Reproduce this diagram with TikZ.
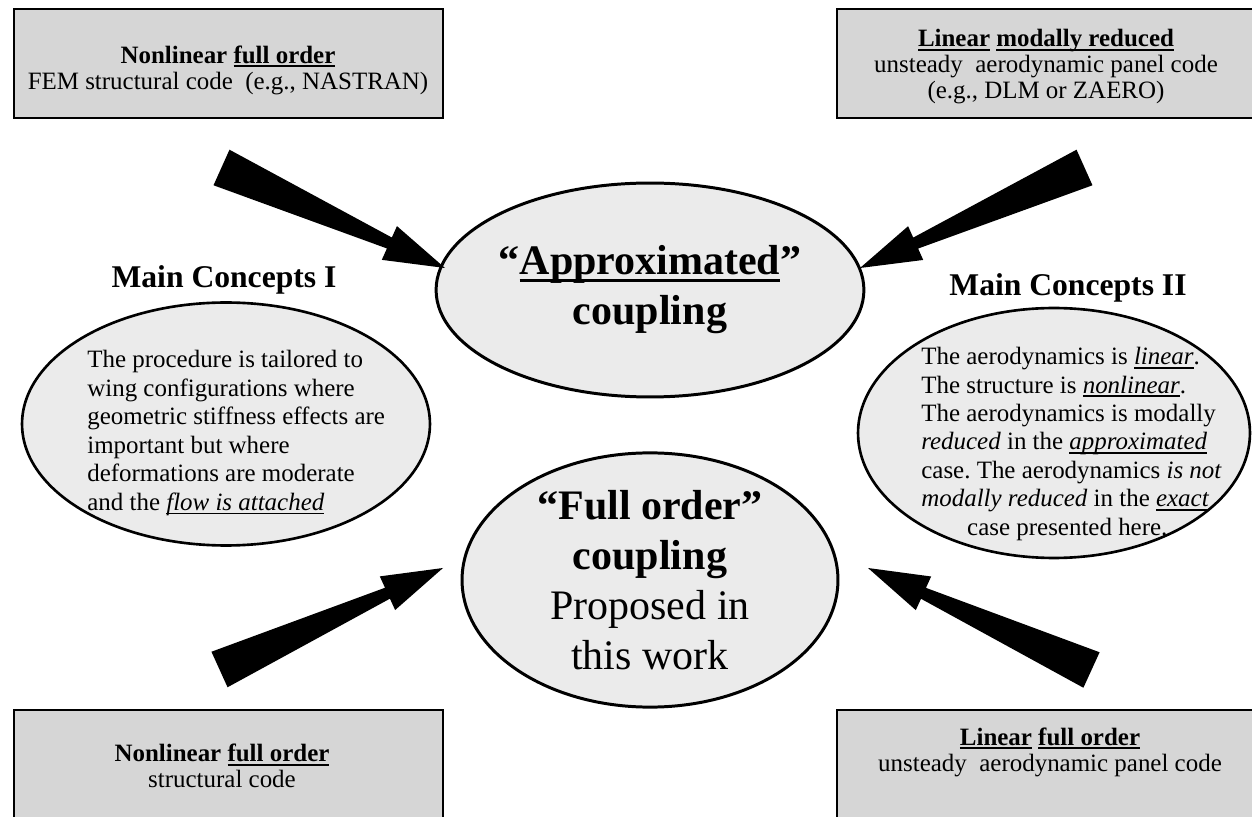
\documentclass[tikz,border=0pt]{standalone}
\usepackage{fontspec}
\setmainfont{Liberation Serif}
\usepackage{tikz}
\usetikzlibrary{calc,shapes.geometric}
\definecolor{boxgray}{HTML}{D6D6D6}
\definecolor{ellgray}{HTML}{EBEBEB}
\newcommand\undl[1]{\setbox0\hbox{#1}\rlap{\rule[-0.16em]{\wd0}{0.065em}}\box0\relax}
\newcommand\fatarrow[2]{%
  \coordinate (neck) at ($(#2)!1.22cm!(#1)$);
  \fill[black] ($(#1)!0.39cm!90:(#2)$) -- ($(neck)!0.12cm!90:(#2)$) -- ($(neck)!0.37cm!90:(#2)$) -- (#2)
    -- ($(neck)!0.37cm!-90:(#2)$) -- ($(neck)!0.12cm!-90:(#2)$) -- ($(#1)!0.39cm!-90:(#2)$) -- cycle;}
\tikzset{
  codebox/.style={draw=black, line width=1.4pt, fill=boxgray, minimum width=8.58cm, inner sep=0pt},
  boxtxt/.style={align=center, inner sep=0pt, font=\fontsize{14.2}{14.8}\selectfont},
  bigell/.style={ellipse, draw=black, line width=1.7pt, fill=ellgray, inner sep=0pt, align=center, font=\fontsize{23.9}{28.5}\selectfont},
  smallell/.style={ellipse, draw=black, line width=1.5pt, fill=ellgray, inner sep=0pt},
  elltxt/.style={align=left, inner sep=0pt, anchor=west, font=\fontsize{14.2}{16.2}\selectfont\frenchspacing},
  head/.style={inner sep=0pt, font=\fontsize{18}{21}\selectfont\bfseries}
}
\begin{document}
\begin{tikzpicture}[x=0.02cm, y=-0.02cm]
  \useasboundingbox (0,0) rectangle (1252,817);
  \fill[white] (0,0) rectangle (1252,817);
  \clip (0,0) rectangle (1252,817);

  % code boxes
  \node[codebox, minimum height=2.18cm] (tlbox) at (228.5,63.5) {};
  \node[codebox, minimum height=2.18cm] (trbox) at (1051.5,63.5) {};
  \node[codebox, minimum height=2.4cm] (blbox) at (228.5,770) {};
  \node[codebox, minimum height=2.4cm] (brbox) at (1051.5,770) {};
  \node[boxtxt] (tltxt) at (228,70) {\textbf{Nonlinear \undl{full order}}\\FEM structural code\ \ (e.g., NASTRAN)};
  \node[boxtxt] (trtxt) at (1046,67) {\textbf{\undl{Linear} \undl{modally reduced}}\\unsteady\ \ aerodynamic panel code\\(e.g., DLM or ZAERO)};
  \node[boxtxt] (bltxt) at (222,766) {\textbf{Nonlinear \undl{full order}}\\structural code};
  \node[boxtxt] (brtxt) at (1050,752) {\textbf{\undl{Linear} \undl{full order}}\\unsteady\ \ aerodynamic panel code};

  % coupling ellipses
  \node[bigell, minimum width=7.52cm, minimum height=4.28cm] (approx) at (650,290) {\textbf{``\undl{Approximated}''}\\\textbf{coupling}};
  \node[bigell, minimum width=7.52cm, minimum height=4.72cm] (fullord) at (650,580) {\textbf{``Full order''}\\\textbf{coupling}\\Proposed in\\this work};

  % main concepts
  \node[smallell, minimum width=8.16cm, minimum height=4.86cm] (conceptI) at (226,424) {};
  \node[smallell, minimum width=7.84cm, minimum height=5.0cm] (conceptII) at (1054,433) {};
  \node[head] (headI) at (224,280) {Main Concepts I};
  \node[head] (headII) at (1068,288) {Main Concepts II};
  \node[elltxt] (txtI) at (87,433) {The procedure is tailored to\\wing configurations where\\geometric stiffness effects are\\important but where\\deformations are moderate\\and the \undl{\textit{flow is attached}}};
  \node[elltxt] (txtII) at (921,444) {The aerodynamics is \undl{\textit{linear}}.\\The structure is \undl{\textit{nonlinear}}.\\The aerodynamics is modally\\\textit{reduced} in the \undl{\textit{approximated}}\\case. The aerodynamics \textit{is not}\\\textit{modally reduced} in the \undl{\textit{exact}}\\\makebox[5.84cm][c]{case presented here.}};

  % fat arrows
  \coordinate (tlTail) at (221.5,167.5);
  \coordinate (tlTip) at (445,268);
  \coordinate (trTail) at (1084.5,167.5);
  \coordinate (trTip) at (860,268);
  \coordinate (blTail) at (219.5,669.5);
  \coordinate (blTip) at (443,568);
  \coordinate (brTail) at (1091.5,670);
  \coordinate (brTip) at (868,568);
  \fatarrow{tlTail}{tlTip}
  \fatarrow{trTail}{trTip}
  \fatarrow{blTail}{blTip}
  \fatarrow{brTail}{brTip}
\end{tikzpicture}
\end{document}
